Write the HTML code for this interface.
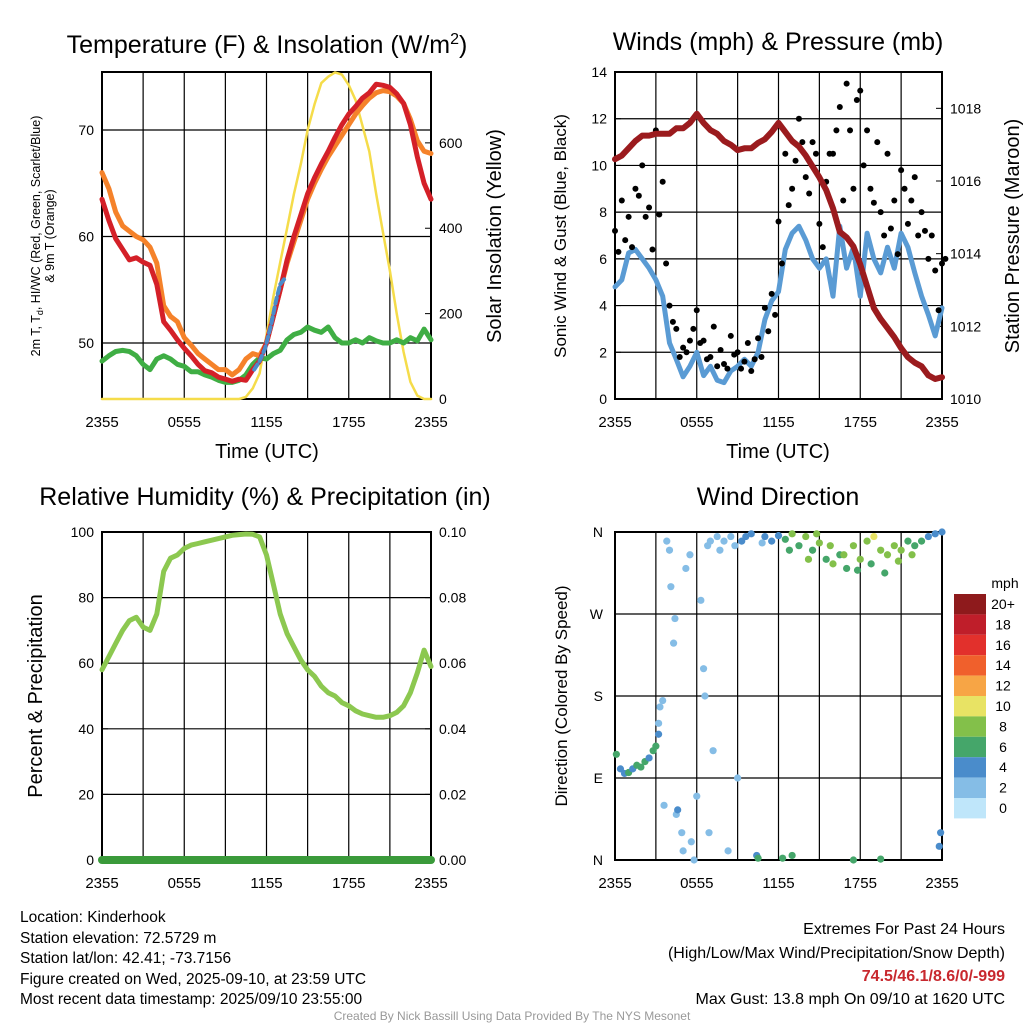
<!DOCTYPE html>
<html><head><meta charset="utf-8"><style>
body{margin:0;background:#fff;width:1024px;height:1024px;overflow:hidden;font-family:"Liberation Sans",sans-serif}
svg{display:block}
</style></head><body>
<svg id="c" width="1024" height="1024" xmlns="http://www.w3.org/2000/svg" font-family="Liberation Sans, sans-serif">
<g id="g"></g>
<text x="267" y="53" font-size="25" text-anchor="middle">Temperature (F) &amp; Insolation (W/m<tspan dy="-9" font-size="16">2</tspan><tspan dy="9">)</tspan></text>
<text x="778" y="50" font-size="25" text-anchor="middle">Winds (mph) &amp; Pressure (mb)</text>
<text x="265" y="505" font-size="25" text-anchor="middle">Relative Humidity (%) &amp; Precipitation (in)</text>
<text x="778" y="505" font-size="25" text-anchor="middle">Wind Direction</text>
<text x="267" y="458" font-size="20" text-anchor="middle">Time (UTC)</text>
<text x="778" y="458" font-size="20" text-anchor="middle">Time (UTC)</text>
<text transform="translate(40,236) rotate(-90)" font-size="12.5" text-anchor="middle">2m T, T<tspan dy="3" font-size="9">d</tspan><tspan dy="-3">, HI/WC (Red, Green, Scarlet/Blue)</tspan></text>
<text transform="translate(54,236) rotate(-90)" font-size="12.5" text-anchor="middle">&amp; 9m T (Orange)</text>
<text transform="translate(501,236) rotate(-90)" font-size="20" text-anchor="middle">Solar Insolation (Yellow)</text>
<text transform="translate(566,236) rotate(-90)" font-size="17" text-anchor="middle">Sonic Wind &amp; Gust (Blue, Black)</text>
<text transform="translate(1019,236) rotate(-90)" font-size="20" text-anchor="middle">Station Pressure (Maroon)</text>
<text transform="translate(42,696) rotate(-90)" font-size="20" text-anchor="middle">Percent &amp; Precipitation</text>
<text transform="translate(567,696) rotate(-90)" font-size="17" text-anchor="middle">Direction (Colored By Speed)</text>
<text x="1005" y="588" font-size="14" text-anchor="middle">mph</text>
<g font-size="15.5">
<text x="20" y="922">Location: Kinderhook</text>
<text x="20" y="943">Station elevation: 72.5729 m</text>
<text x="20" y="963">Station lat/lon: 42.41; -73.7156</text>
<text x="20" y="984">Figure created on Wed, 2025-09-10, at 23:59 UTC</text>
<text x="20" y="1004">Most recent data timestamp: 2025/09/10 23:55:00</text>
</g>
<g font-size="16" text-anchor="end">
<text x="1005" y="934">Extremes For Past 24 Hours</text>
<text x="1005" y="958">(High/Low/Max Wind/Precipitation/Snow Depth)</text>
<text x="1005" y="981" fill="#c8282e" font-weight="bold">74.5/46.1/8.6/0/-999</text>
<text x="1005" y="1004">Max Gust: 13.8 mph On 09/10 at 1620 UTC</text>
</g>
<text x="512" y="1020" font-size="12" fill="#999" text-anchor="middle">Created By Nick Bassill Using Data Provided By The NYS Mesonet</text>
</svg>
<script>
const hours=[0,0.5,1,1.5,2,2.5,3,3.5,4,4.5,5,5.5,6,6.5,7,7.5,8,8.5,9,9.5,10,10.5,11,11.5,12,12.5,13,13.5,14,14.5,15,15.5,16,16.5,17,17.5,18,18.5,19,19.5,20,20.5,21,21.5,22,22.5,23,23.5,24];
const timeLabels=["2355","0555","1155","1755","2355"];
const temp2m=[63.5,61.5,59.8,58.8,57.8,58.0,57.6,57.3,55.5,52.0,51.2,50.3,49.5,48.8,48.0,47.4,47.2,46.8,46.6,46.4,46.6,46.5,47.5,48.3,50.0,52.5,55.0,57.8,60.0,62.0,64.0,65.5,66.8,68.0,69.3,70.5,71.5,72.2,73.0,73.5,74.3,74.2,74.0,73.4,72.5,70.5,67.5,65.0,63.5];
const temp9m=[66,64.5,62.3,61.0,60.5,60.0,59.7,59.0,57.5,53.5,52.5,52.0,50.5,49.8,49.0,48.5,48.0,47.5,47.5,47.0,47.5,48.5,49.0,48.8,50.0,52.5,55.0,57.5,59.5,61.5,63.5,65.0,66.3,67.5,68.5,69.5,70.5,71.5,72.3,73.0,73.5,73.7,73.6,73.2,72.5,71.0,69.0,68.0,67.8];
const dewpoint=[48.3,48.8,49.2,49.3,49.2,48.8,48.0,47.5,48.5,48.8,48.5,48.0,47.8,47.3,47.3,47.0,46.8,46.5,46.3,46.3,46.5,47.0,48.0,48.6,48.5,49.0,49.3,50.3,50.8,51.0,51.5,51.2,51.0,51.5,50.5,50.0,50.0,50.3,50.0,50.5,50.2,50.0,50.0,50.3,50.0,50.5,50.2,51.3,50.3];
const hiwcHours=[11.1,11.5,11.9,12.3,12.7,13.0,13.3];
const hiwc=[47.5,48.3,49.5,51.5,54,55.5,56];
const solar=[0,0,0,0,0,0,0,0,0,0,0,0,0,0,0,0,0,0,0,0,0,5,25,60,150,240,320,400,480,550,630,690,740,755,765,760,735,700,640,580,480,390,300,200,110,40,8,0,0];
const pressure=[1016.6,1016.7,1016.9,1017.1,1017.25,1017.25,1017.3,1017.3,1017.3,1017.45,1017.45,1017.6,1017.85,1017.6,1017.4,1017.3,1017.1,1017.0,1016.85,1016.9,1016.9,1017.05,1017.15,1017.35,1017.6,1017.35,1017.1,1016.95,1016.7,1016.4,1016.1,1015.75,1015.25,1014.6,1014.45,1014.2,1013.7,1013.1,1012.5,1012.2,1011.95,1011.7,1011.4,1011.15,1011.0,1010.9,1010.65,1010.55,1010.6];
const wind=[4.8,5.1,6.25,6.4,6.0,5.6,5.1,4.4,2.4,1.7,0.95,1.4,2.0,1.0,1.4,0.8,0.7,1.2,1.4,1.7,1.4,2.0,3.4,4.2,4.6,6.4,7.1,7.4,6.8,6.0,5.6,6.0,4.4,7.4,5.6,6.5,4.4,7.1,6.0,5.4,6.5,5.6,7.1,6.5,5.4,4.4,3.6,2.7,3.9];
const gustA=[7.2,8.5,7.8,9.0,10.0,8.2,11.5,9.3,4.0,3.0,2.2,2.5,3.8,2.5,1.8,1.4,1.5,2.7,2.0,1.6,1.2,2.6,3.9,4.5,7.6,10.5,9.0,12.0,9.5,11.0,7.5,9.3,10.5,12.5,13.5,9.0,13.2,11.5,8.4,8.0,10.5,8.5,9.8,7.5,9.5,8.0,6.0,5.5,5.8];
const gustB=[6.3,6.8,6.5,8.7,7.8,6.4,7.9,5.8,3.3,1.8,2.0,3.0,2.4,1.7,3.1,2.1,1.3,1.9,1.3,2.4,1.7,1.8,2.9,3.6,5.8,8.3,10.2,11.0,8.8,10.5,6.5,10.5,11.5,8.5,11.5,12.8,10.0,9.0,11.0,7.0,7.3,6.2,9.0,8.5,7.0,7.2,7.0,3.8,6.0];
const rh=[58,62,66,70,73,74,71,70,75,88,92,93,95,96,96.5,97,97.5,98,98.5,99,99.2,99.4,99.3,98.5,93,84,75,69,65,61,58,56,53,51,50,48,47,45.5,44.5,44,43.5,43.5,44,45,47,51,57,64,59];
const precip=[0,0,0,0,0,0,0,0,0,0,0,0,0,0,0,0,0,0,0,0,0,0,0,0,0,0,0,0,0,0,0,0,0,0,0,0,0,0,0,0,0,0,0,0,0,0,0,0,0];
const dirHours=[0.1,0.4,0.7,1.0,1.3,1.6,1.9,2.2,2.5,2.8,3.0,3.2,3.2,3.3,3.5,3.6,3.8,4.0,4.1,4.3,4.4,4.5,4.6,4.9,5.0,5.2,5.5,5.6,5.8,6.0,6.3,6.5,6.6,6.8,6.9,7.0,7.2,7.5,7.7,8.0,8.3,8.5,8.8,9.0,9.3,9.6,10,10.4,10.8,11,11.5,12,12.3,12.5,13,13.5,14,14.5,15,15.5,16,16.5,17,17.5,18,18.5,19,19.5,20,20.5,21,21.5,22,22.5,23,23.5,24,13,17.5,19.5,23.8,23.9,10.5,12.8,14.2,15.8,16.8,17.8,18.8,19.8,20.8,21.8,14.8];
const dirDeg=[116,100,95,96,100,104,102,108,112,120,125,138,150,168,175,60,350,340,300,238,265,50,55,30,10,320,335,20,0,70,285,210,180,345,30,350,120,355,340,350,10,355,345,90,350,355,358,5,348,355,350,356,2,352,358,345,355,340,348,330,325,335,320,345,330,350,355,340,335,345,340,350,345,350,355,358,360,5,0,1,15,30,2,340,330,345,335,318,325,315,328,335,358];
const dirSpeed=[5,4,4,5,4,5,5,5,4,5,5,3,2,2,2,1,1,1,1,1,1,2,3,1,2,1,1,2,1,1,1,1,1,1,2,2,2,1,1,1,1,2,1,2,3,3,4,3,2,4,3,4,6,5,7,6,8,6,7,6,7,5,6,8,7,7,9,8,7,7,8,6,5,5,4,4,4,5,6,5,4,3,5,6,7,8,8,6,6,6,8,7,8];
const cbLabels=["20+","18","16","14","12","10","8","6","4","2","0"];
const cbColors=["#8e1a1c","#bf1e2a","#e2302c","#f0602c","#f7a545","#e8e364","#83c04a","#45a66a","#4a8ccb","#85bde6","#bfe6fa"];

const NS="http://www.w3.org/2000/svg";
const G=document.getElementById('g');
function mk(tag,at,parent){const e=document.createElementNS(NS,tag);for(const k in at)e.setAttribute(k,at[k]);(parent||G).appendChild(e);return e;}
function txt(x,y,s,anchor,size){const t=mk('text',{x:x,y:y,'font-size':size||14,'text-anchor':anchor||'middle'});t.textContent=s;return t;}

const P1={x0:102,x1:431,y0:72,y1:399};
const P2={x0:615,x1:942,y0:72,y1:399};
const P3={x0:102,x1:431,y0:532,y1:860};
const P4={x0:615,x1:942,y0:532,y1:860};
function xs(P){return h=>P.x0+h/24*(P.x1-P.x0);}
function ys(P,lo,hi){return v=>P.y1-(v-lo)/(hi-lo)*(P.y1-P.y0);}

function frame(P,name,yTicks,yFn){
  const fr=mk('g',{});
  
  
  const X=xs(P);
  for(let k=0;k<=8;k++){const x=X(k*3);mk('line',{x1:x,x2:x,y1:P.y0,y2:P.y1,stroke:'#000','stroke-width':1.2},fr);}
  yTicks.forEach(v=>{const y=yFn(v);mk('line',{x1:P.x0,x2:P.x1,y1:y,y2:y,stroke:'#000','stroke-width':1.2},fr);});
  mk('rect',{x:P.x0,y:P.y0,width:P.x1-P.x0,height:P.y1-P.y0,fill:'none',stroke:'#000','stroke-width':2},fr);
  timeLabels.forEach((l,i)=>{const t=txt(X(i*6),P.y1+28,l,'middle',15);fr.appendChild(t);});
}
function line(P,X,Y,hs,vals,color,w,name,dash){
  const d=hs.map((h,i)=>(i?'L':'M')+X(h).toFixed(1)+','+Y(vals[i]).toFixed(1)).join('');
  const p=mk('path',{d:d,fill:'none',stroke:color,'stroke-width':w,'stroke-linejoin':'round','stroke-linecap':'round'});
  if(dash)p.setAttribute('stroke-dasharray',dash);
  
  
}
function axisLabels(P,vals,Y,side,fmt){
  vals.forEach(v=>{const y=Y(v);
    if(side==='l'){txt(P.x0-8,y+5,fmt(v),'end',14);mk('line',{x1:P.x0,x2:P.x0+6,y1:y,y2:y,stroke:'#000'});}
    else{txt(P.x1+8,y+5,fmt(v),'start',14);mk('line',{x1:P.x1,x2:P.x1-6,y1:y,y2:y,stroke:'#000'});}
  });
}

// Panel 1
{const X=xs(P1),Y=ys(P1,44.74,75.45),YS=ys(P1,0,766);
 frame(P1,'temperature',[50,60,70],Y);
 axisLabels(P1,[50,60,70],Y,'l',v=>v);
 axisLabels(P1,[0,200,400,600],YS,'r',v=>v);
 line(P1,X,YS,hours,solar,'#f5dc4a',2.5,'solar-line');
 line(P1,X,Y,hours,dewpoint,'#3fae44',5,'dewpoint-line');
 line(P1,X,Y,hours,temp9m,'#f5822a',5,'temp-9m-line');
 line(P1,X,Y,hours,temp2m,'#d42028',5,'temp-2m-line');
 line(P1,X,Y,hiwcHours,hiwc,'#4a8ccb',4,'heat-index-line','6,4');
}
// Panel 2
{const X=xs(P2),Y=ys(P2,0,14),YP=ys(P2,1010,1019);
 frame(P2,'wind',[2,4,6,8,10,12,14],Y);
 axisLabels(P2,[0,2,4,6,8,10,12,14],Y,'l',v=>v);
 axisLabels(P2,[1010,1012,1014,1016,1018],YP,'r',v=>v);
 line(P2,X,Y,hours,wind,'#5a9bd4',5,'sonic-wind-line');
 [gustA,gustB].forEach((arr,j)=>arr.forEach((v,i)=>{const c=mk('circle',{cx:X(hours[i]+j*0.25),cy:Y(v),r:3,fill:'#000'});
  
  }));
 line(P2,X,YP,hours,pressure,'#9b1b1e',6,'pressure-line');
}
// Panel 3
{const X=xs(P3),Y=ys(P3,0,100),YR=ys(P3,0,0.1);
 frame(P3,'humidity',[20,40,60,80],Y);
 axisLabels(P3,[0,20,40,60,80,100],Y,'l',v=>v);
 axisLabels(P3,[0,0.02,0.04,0.06,0.08,0.1],YR,'r',v=>v.toFixed(2));
 line(P3,X,Y,hours,rh,'#8cc850',5,'humidity-line');
 line(P3,X,YR,hours,precip,'#3a9a3a',8,'precip-line');
}
// Panel 4
{const X=xs(P4),Y=ys(P4,0,360);
 frame(P4,'direction',[90,180,270],Y);
 [['N',0],['E',90],['S',180],['W',270],['N',360]].forEach(a=>txt(P4.x0-12,Y(a[1])+5,a[0],'end',14));
 dirHours.forEach((h,i)=>{const idx=Math.max(0,10-Math.floor((dirSpeed[i]+1)/2));
  const c=mk('circle',{cx:X(h),cy:Y(dirDeg[i]),r:3.6,fill:cbColors[idx]});
  
  });
 cbColors.forEach((col,i)=>{const r=mk('rect',{x:954,y:594+i*20.4,width:32,height:20.4,fill:col});
  
  
  txt(1003,594+i*20.4+15,cbLabels[i],'middle',14);});
}
</script>
</body></html>
